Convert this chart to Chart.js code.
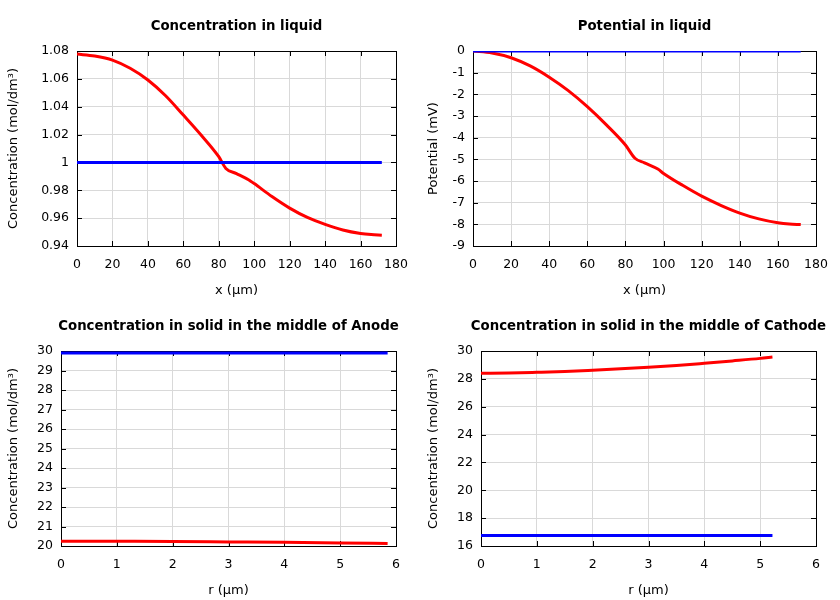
<!DOCTYPE html>
<html>
<head>
<meta charset="utf-8">
<script src="https://cdn.jsdelivr.net/npm/chart.js@4/dist/chart.umd.min.js"></script>
<style>
  html, body { margin: 0; padding: 0; background: #fff; }
  #wrap { position: relative; width: 840px; height: 600px; }
  #wrap canvas { position: absolute; }
</style>
</head>
<body>
<div id="wrap">
  <canvas id="c1" width="420" height="300" style="left:0;top:0"></canvas>
  <canvas id="c2" width="420" height="300" style="left:420px;top:0"></canvas>
  <canvas id="c3" width="420" height="300" style="left:0;top:300px"></canvas>
  <canvas id="c4" width="420" height="300" style="left:420px;top:300px"></canvas>
</div>
<script>
// concentration in liquid
const liqX = [0, 10, 20, 30, 40, 50, 60, 70, 80, 84, 90, 97, 100, 110, 120, 130, 140, 150, 160, 166, 172];
const liqConcRed = [1.0778, 1.0764, 1.0735, 1.0676, 1.0592, 1.0479, 1.034, 1.0197, 1.0041, 0.9957, 0.992, 0.9874, 0.9848, 0.9755, 0.9672, 0.9605, 0.9555, 0.9515, 0.949, 0.9482, 0.9478];
const liqConcBlueX = [0, 172];
const liqConcBlue = [1.0, 1.0];

// potential in liquid
const potX = [0, 10, 20, 30, 40, 50, 60, 70, 80, 85, 90, 97, 100, 110, 120, 130, 140, 150, 160, 166, 172];
const potRed = [0, -0.09, -0.31, -0.69, -1.21, -1.83, -2.57, -3.41, -4.34, -4.95, -5.16, -5.45, -5.65, -6.2, -6.7, -7.12, -7.48, -7.75, -7.93, -7.99, -8.01];
const potBlueX = [0, 172];
const potBlue = [0, 0];

// solid, anode
const anodeR = [0, 1, 2, 3, 4, 5, 5.85];
const anodeRed = [20.25, 20.24, 20.23, 20.21, 20.19, 20.16, 20.13];
const anodeBlueR = [0, 5.85];
const anodeBlue = [29.9, 29.9];

// solid, cathode
const cathR = [0, 0.5, 1, 1.5, 2, 2.5, 3, 3.5, 4, 4.5, 5, 5.22];
const cathRed = [28.4, 28.42, 28.47, 28.53, 28.62, 28.72, 28.83, 28.96, 29.12, 29.29, 29.47, 29.57];
const cathBlueR = [0, 5.22];
const cathBlue = [16.75, 16.75];

const concLabel = "Concentration (mol/dm\u00b3)";

Chart.defaults.font.family = "'DejaVu Sans', sans-serif";
Chart.defaults.font.size = 12.5;
Chart.defaults.color = "#000";

function pts(xs, ys) {
  return xs.map((x, i) => ({ x: x, y: ys[i] }));
}

// box, inward ticks and a title centred on the plot area
const framePlugin = {
  id: "frame",
  beforeDatasetsDraw(chart) {
    const a = chart.chartArea;
    const ctx = chart.ctx;
    const xs = chart.scales.x;
    const ys = chart.scales.y;
    ctx.save();
    ctx.strokeStyle = "#000";
    ctx.lineWidth = 1;
    ctx.beginPath();
    xs.ticks.forEach((t) => {
      const px = Math.round(xs.getPixelForValue(t.value)) + 0.5;
      ctx.moveTo(px, a.bottom);
      ctx.lineTo(px, a.bottom - 5);
      ctx.moveTo(px, a.top);
      ctx.lineTo(px, a.top + 5);
    });
    ys.ticks.forEach((t) => {
      const py = Math.round(ys.getPixelForValue(t.value)) + 0.5;
      ctx.moveTo(a.left, py);
      ctx.lineTo(a.left + 5, py);
      ctx.moveTo(a.right, py);
      ctx.lineTo(a.right - 5, py);
    });
    ctx.stroke();
    ctx.strokeRect(Math.round(a.left) + 0.5, Math.round(a.top) + 0.5, Math.round(a.right - a.left), Math.round(a.bottom - a.top));
    ctx.restore();
  },
  afterDraw(chart, args, opts) {
    const a = chart.chartArea;
    const ctx = chart.ctx;
    ctx.save();
    ctx.font = "bold 13.3px 'DejaVu Sans', sans-serif";
    ctx.fillStyle = "#000";
    ctx.textAlign = "center";
    ctx.textBaseline = "middle";
    ctx.fillText(opts.text, (a.left + a.right) / 2, 27);
    ctx.restore();
  },
};

function makePanel(id, cfg) {
  return new Chart(document.getElementById(id), {
    type: "line",
    data: {
      datasets: [
        {
          data: pts(cfg.blueX, cfg.blueY),
          borderColor: "#0000ff",
          borderWidth: 3,
          pointRadius: 0,
          fill: false,
        },
        {
          data: pts(cfg.redX, cfg.redY),
          borderColor: "#ff0000",
          borderWidth: 3,
          pointRadius: 0,
          fill: false,
          cubicInterpolationMode: "monotone",
        },
      ],
    },
    options: {
      responsive: false,
      animation: false,
      layout: { padding: { top: 51, right: 24, left: 0, bottom: 0 } },
      plugins: {
        legend: { display: false },
        tooltip: { enabled: false },
        frame: { text: cfg.title },
      },
      scales: {
        x: {
          type: "linear",
          min: cfg.xMin,
          max: cfg.xMax,
          ticks: { stepSize: cfg.xStep, padding: 11, maxRotation: 0 },
          grid: { color: "#d9d9d9", drawTicks: false },
          border: { display: false },
          title: { display: true, text: cfg.xTitle, font: { size: 13 }, padding: { top: 0, bottom: 2 } },
          afterFit: (s) => { s.height = 54; },
        },
        y: {
          min: cfg.yMin,
          max: cfg.yMax,
          ticks: {
            stepSize: cfg.yStep,
            padding: 8,
            callback: (v) => String(+v.toFixed(2)),
          },
          grid: { color: "#d9d9d9", drawTicks: false },
          border: { display: false },
          title: { display: true, text: cfg.yTitle, font: { size: 13 }, padding: { top: 6, bottom: 0 } },
          afterFit: (s) => { s.width = cfg.yWidth; },
        },
      },
    },
    plugins: [framePlugin],
  });
}

makePanel("c1", {
  title: "Concentration in liquid",
  redX: liqX, redY: liqConcRed, blueX: liqConcBlueX, blueY: liqConcBlue,
  xMin: 0, xMax: 180, xStep: 20, yMin: 0.94, yMax: 1.08, yStep: 0.02,
  xTitle: "x (\u00b5m)", yTitle: concLabel, yWidth: 77,
});

makePanel("c2", {
  title: "Potential in liquid",
  redX: potX, redY: potRed, blueX: potBlueX, blueY: potBlue,
  xMin: 0, xMax: 180, xStep: 20, yMin: -9, yMax: 0, yStep: 1,
  xTitle: "x (\u00b5m)", yTitle: "Potential (mV)", yWidth: 53,
});

makePanel("c3", {
  title: "Concentration in solid in the middle of Anode",
  redX: anodeR, redY: anodeRed, blueX: anodeBlueR, blueY: anodeBlue,
  xMin: 0, xMax: 6, xStep: 1, yMin: 20, yMax: 30, yStep: 1,
  xTitle: "r (\u00b5m)", yTitle: concLabel, yWidth: 61,
});

makePanel("c4", {
  title: "Concentration in solid in the middle of Cathode",
  redX: cathR, redY: cathRed, blueX: cathBlueR, blueY: cathBlue,
  xMin: 0, xMax: 6, xStep: 1, yMin: 16, yMax: 30, yStep: 2,
  xTitle: "r (\u00b5m)", yTitle: concLabel, yWidth: 61,
});
</script>
</body>
</html>
